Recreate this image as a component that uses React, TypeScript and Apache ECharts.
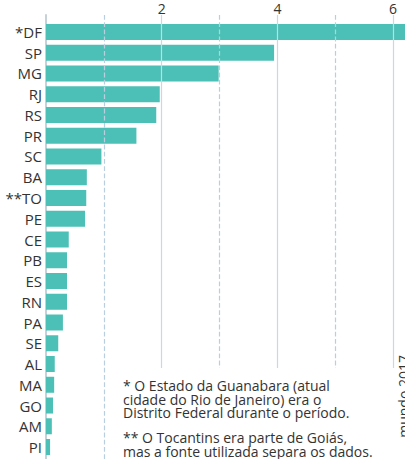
import React, { useEffect, useRef } from "react";
import * as echarts from "echarts";

const categories = ["*DF", "SP", "MG", "RJ", "RS", "PR", "SC", "BA", "**TO", "PE", "CE", "PB", "ES", "RN", "PA", "SE", "AL", "MA", "GO", "AM", "PI"];
const values = [6.3, 3.91, 2.96, 1.95, 1.89, 1.55, 0.95, 0.7, 0.69, 0.67, 0.39, 0.36, 0.36, 0.36, 0.29, 0.21, 0.15, 0.14, 0.12, 0.1, 0.07];
const gridValues = [1, 2, 3, 4, 5, 6];
const tickLabels = ["2", "4", "6"];
const xMax = 6.154;
const note1 = "* O Estado da Guanabara (atual\ncidade do Rio de Janeiro) era o\nDistrito Federal durante o período.";
const note2 = "** O Tocantins era parte de Goiás,\nmas a fonte utilizada separa os dados.";
const sourceText = "mundo 2017";

export default function App() {
  const ref = useRef<HTMLDivElement>(null);
  useEffect(() => {
    if (!ref.current) return;
    const chart = echarts.init(ref.current, null, { renderer: "svg" });
    const font = "'Open Sans', sans-serif";
    chart.setOption({
      animation: false,
      grid: [
        { left: 46, right: 0, top: 21.6, bottom: 1.6 },
        { left: 46, right: 0, top: 15, bottom: 0 },
      ],
      xAxis: [
        { gridIndex: 0, type: "value", min: 0, max: xMax, show: false },
        {
          gridIndex: 1,
          type: "value",
          min: 0,
          max: xMax,
          interval: 2,
          position: "top",
          axisLine: { show: false },
          axisTick: { show: false },
          splitLine: { show: false },
          axisLabel: {
            margin: 0,
            fontSize: 14,
            fontFamily: font,
            color: "#333",
            formatter: (v: number) => (tickLabels.includes(String(v)) ? String(v) : ""),
          },
        },
      ],
      yAxis: [
        {
          gridIndex: 0,
          type: "category",
          data: categories,
          inverse: true,
          axisLine: { show: false },
          axisTick: { show: false },
          axisLabel: { margin: 4, fontSize: 15, fontFamily: font, color: "#333" },
        },
        {
          gridIndex: 1,
          type: "value",
          min: 0,
          max: 1,
          axisLine: { show: true, lineStyle: { color: "#c6d1d9", width: 2 } },
          axisTick: { show: false },
          axisLabel: { show: false },
          splitLine: { show: false },
        },
      ],
      series: [
        {
          type: "line",
          xAxisIndex: 1,
          yAxisIndex: 1,
          data: [],
          showSymbol: false,
          z: 1,
          markLine: {
            silent: true,
            symbol: "none",
            label: { show: false },
            data: gridValues.map((v) => ({
              xAxis: v,
              lineStyle:
                v % 2 === 0
                  ? { type: "solid", color: "#cdd7de", width: 1.2 }
                  : { type: "dashed", color: "#b9cfe0", width: 1.2 },
            })),
          },
        },
        {
          type: "bar",
          xAxisIndex: 0,
          yAxisIndex: 0,
          data: values,
          barWidth: 16,
          itemStyle: { color: "#4cc0b6" },
          z: 3,
        },
      ],
      graphic: [
        {
          type: "rect",
          z: 100,
          shape: { x: 115, y: 368, width: 290, height: 91 },
          style: { fill: "#fff" },
        },
        {
          type: "text",
          z: 101,
          x: 123,
          y: 399.3,
          style: { text: note1, font: `14px ${font}`, lineHeight: 13.5, fill: "#333", verticalAlign: "middle", align: "left" },
        },
        {
          type: "text",
          z: 101,
          x: 123,
          y: 444.5,
          style: { text: note2, font: `14px ${font}`, lineHeight: 13.5, fill: "#333", verticalAlign: "middle", align: "left" },
        },
        {
          type: "text",
          z: 101,
          x: 403,
          y: 355,
          rotation: Math.PI / 2,
          style: { text: sourceText, font: `14px ${font}`, fill: "#333", align: "right", verticalAlign: "middle" },
        },
      ],
    });
    return () => chart.dispose();
  }, []);
  return <div ref={ref} style={{ position: "fixed", left: 0, top: 0, width: 405, height: 459, background: "#fff" }} />;
}
